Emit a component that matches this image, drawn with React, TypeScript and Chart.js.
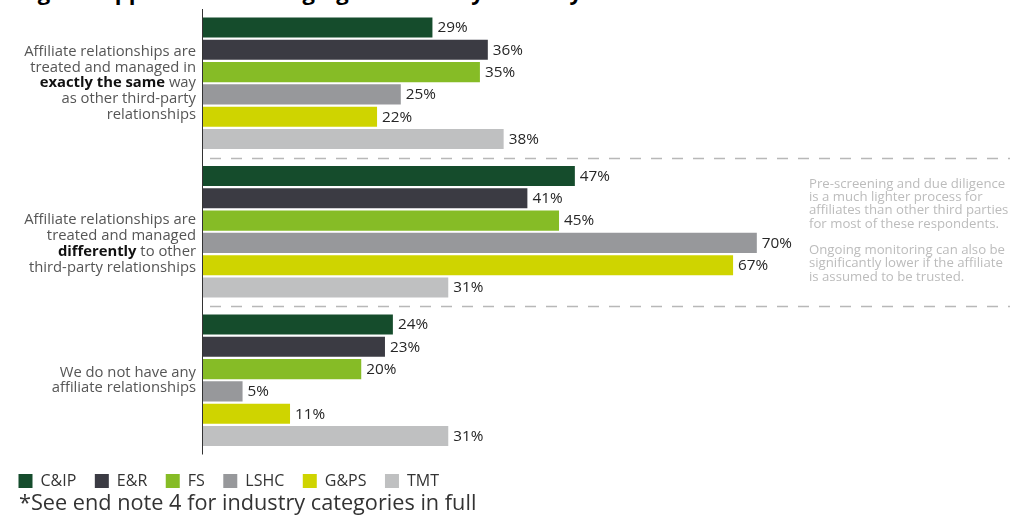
import React, { useEffect, useRef } from "react";
import { Chart, registerables } from "chart.js";

Chart.register(...registerables);

const FONT = "'Open Sans', sans-serif";

const categories = ["Exactly the same", "Differently", "No affiliate relationships"];

// Category label lines; text wrapped in ** is bold
const categoryLabelLines = [
  [
    "Affiliate relationships are",
    "treated and managed in",
    "**exactly the same** way",
    "as other third-party",
    "relationships",
  ],
  [
    "Affiliate relationships are",
    "treated and managed",
    "**differently** to other",
    "third-party relationships",
  ],
  ["We do not have any", "affiliate relationships"],
];

const seriesNames = ["C&IP", "E&R", "FS", "LSHC", "G&PS", "TMT"];
const cipValues = [29, 47, 24];
const erValues = [36, 41, 23];
const fsValues = [35, 45, 20];
const lshcValues = [25, 70, 5];
const gpsValues = [22, 67, 11];
const tmtValues = [38, 31, 31];
const seriesValues = [cipValues, erValues, fsValues, lshcValues, gpsValues, tmtValues];
const seriesColors = ["#154c2c", "#3b3b43", "#86bc26", "#97989b", "#cfd400", "#bfc0c1"];

const noteParagraphs = [
  [
    "Pre-screening and due diligence",
    "is a much lighter process for",
    "affiliates than other third parties",
    "for most of these respondents.",
  ],
  [
    "Ongoing monitoring can also be",
    "significantly lower if the affiliate",
    "is assumed to be trusted.",
  ],
];

const titleText = "Figure: Approach to managing affiliates by industry";
const footnoteText = "*See end note 4 for industry categories in full";

const overlayPlugin = {
  id: "overlay",
  beforeDatasetsDraw(chart: any) {
    const { ctx, chartArea, scales } = chart;
    const y = scales.y;
    ctx.save();
    ctx.strokeStyle = "#b8b8b8";
    ctx.lineWidth = 1.3;
    ctx.setLineDash([11, 10]);
    for (let i = 0; i < categories.length - 1; i++) {
      const py = Math.round((y.getPixelForValue(i) + y.getPixelForValue(i + 1)) / 2) + 0.5;
      ctx.beginPath();
      ctx.moveTo(chartArea.left + 7, py);
      ctx.lineTo(chartArea.right, py);
      ctx.stroke();
    }
    ctx.restore();
  },
  afterDatasetsDraw(chart: any) {
    const { ctx, chartArea, scales } = chart;
    const y = scales.y;
    ctx.save();

    // axis line
    ctx.strokeStyle = "#333";
    ctx.lineWidth = 1;
    ctx.beginPath();
    ctx.moveTo(chartArea.left - 0.5, chartArea.top);
    ctx.lineTo(chartArea.left - 0.5, chartArea.bottom);
    ctx.stroke();

    // value labels
    ctx.font = `15.3px ${FONT}`;
    ctx.fillStyle = "#262626";
    ctx.textBaseline = "middle";
    ctx.textAlign = "left";
    chart.data.datasets.forEach((ds: any, i: number) => {
      const meta = chart.getDatasetMeta(i);
      meta.data.forEach((bar: any, j: number) => {
        ctx.fillText(`${ds.data[j]}%`, bar.x + 5, bar.y + 0.5);
      });
    });

    // category labels with bold segments
    const lineH = 15.9;
    const size = 14.8;
    const shifts = [0, 12, 0];
    const rightX = chartArea.left - 7;
    categoryLabelLines.forEach((lines, ci) => {
      const cy = y.getPixelForValue(ci) + shifts[ci];
      const startY = cy - ((lines.length - 1) * lineH) / 2;
      lines.forEach((line, li) => {
        const segs = line.split("**").map((t, k) => ({ t, bold: k % 2 === 1 })).filter((s) => s.t);
        let total = 0;
        segs.forEach((s) => {
          ctx.font = `${s.bold ? "bold " : ""}${size}px ${FONT}`;
          total += ctx.measureText(s.t).width;
        });
        let x = rightX - total;
        const ly = startY + li * lineH;
        segs.forEach((s) => {
          ctx.font = `${s.bold ? "bold " : ""}${size}px ${FONT}`;
          ctx.fillStyle = s.bold ? "#111" : "#555";
          ctx.fillText(s.t, x, ly);
          x += ctx.measureText(s.t).width;
        });
      });
    });

    // side note
    ctx.font = `13.2px ${FONT}`;
    ctx.fillStyle = "#bcbcbc";
    const noteCenter = y.getPixelForValue(1);
    let ny = noteCenter - 48;
    noteParagraphs.forEach((para, pi) => {
      if (pi > 0) ny += 26 - 13.4;
      para.forEach((line) => {
        ctx.fillText(line, 809, ny);
        ny += 13.4;
      });
    });

    ctx.restore();
  },
};

export default function App() {
  const canvasRef = useRef<HTMLCanvasElement | null>(null);

  useEffect(() => {
    if (!canvasRef.current) return;
    const chart = new Chart(canvasRef.current, {
      type: "bar",
      data: {
        labels: categories,
        datasets: seriesNames.map((name, i) => ({
          label: name,
          data: seriesValues[i],
          backgroundColor: seriesColors[i],
          borderWidth: 0,
          categoryPercentage: 0.9,
          barPercentage: 0.9,
        })),
      },
      options: {
        indexAxis: "y",
        responsive: true,
        maintainAspectRatio: false,
        animation: false,
        layout: { padding: { top: 9, bottom: 1, left: 0, right: 0 } },
        scales: {
          x: { display: false, min: 0, max: 102 },
          y: {
            display: true,
            ticks: { display: false },
            grid: { display: false },
            border: { display: false },
            afterFit: (s: any) => {
              s.width = 203;
            },
          },
        },
        plugins: {
          legend: {
            position: "bottom",
            align: "start",
            labels: {
              boxWidth: 14,
              boxHeight: 14,
              padding: 18.5,
              color: "#333",
              font: { family: FONT, size: 16 },
            },
          },
          tooltip: { enabled: false },
          title: { display: false },
        },
      } as any,
      plugins: [overlayPlugin],
    });
    return () => chart.destroy();
  }, []);

  return (
    <div style={{ position: "absolute", left: 0, top: 0, width: 1010, height: 517, overflow: "hidden", background: "#fff" }}>
      <div
        style={{
          position: "absolute",
          left: 19,
          top: -20,
          font: `bold 22px ${FONT}`,
          lineHeight: "22px",
          whiteSpace: "nowrap",
          color: "#000",
        }}
      >
        {titleText}
      </div>
      <div style={{ position: "absolute", left: 0, top: 0, width: 1010, height: 500 }}>
        <canvas ref={canvasRef} />
      </div>
      <div
        style={{
          position: "absolute",
          left: 19,
          top: 491,
          font: `21.7px ${FONT}`,
          lineHeight: "22px",
          whiteSpace: "nowrap",
          color: "#333",
        }}
      >
        {footnoteText}
      </div>
    </div>
  );
}
